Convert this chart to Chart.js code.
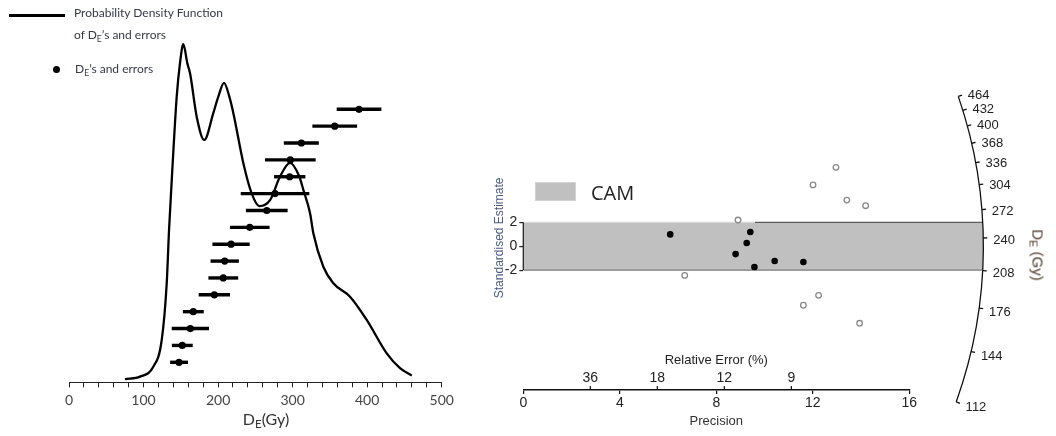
<!DOCTYPE html>
<html>
<head>
<meta charset="utf-8">
<title>Equivalent dose distribution and radial plot</title>
<script src="https://cdn.jsdelivr.net/npm/chart.js@4.4.0/dist/chart.umd.min.js"></script>
<style>
  html, body { margin: 0; padding: 0; background: #fff; }
  #wrap { position: relative; width: 1056px; height: 436px; overflow: hidden; }
  canvas { position: absolute; top: 0; }
  #kde { left: 0; }
  #radial { left: 480px; }
  .t { position: absolute; white-space: nowrap; line-height: 1; transform: translateY(-50%); }
  .t sub { font-size: 72%; vertical-align: -0.3em; line-height: 0; }
  .lg { font-family: Lato, "Open Sans", sans-serif; font-size: 12px; color: #363a45; }
</style>
</head>
<body>
<div id="wrap">
  <canvas id="kde" width="470" height="436"></canvas>
  <canvas id="radial" width="576" height="436"></canvas>

  <!-- legend of the dose distribution panel -->
  <div style="position:absolute;left:9px;top:14px;width:56px;height:2.5px;background:#000;"></div>
  <div class="t lg" style="left:74px;top:12.5px;">Probability Density Function</div>
  <div class="t lg" style="left:74px;top:34.5px;">of D<sub>E</sub>’s and errors</div>
  <div style="position:absolute;left:52.5px;top:65.5px;width:7px;height:7px;border-radius:50%;background:#000;"></div>
  <div class="t lg" style="left:75px;top:69px;">D<sub>E</sub>’s and errors</div>

  <!-- dose axis title -->
  <div class="t" style="left:266px;top:419px;transform:translate(-50%,-50%);font-family:Lato,sans-serif;font-size:16px;color:#333;">D<sub>E</sub>(Gy)</div>

  <!-- central age model legend -->
  <div style="position:absolute;left:535px;top:181.5px;width:39px;height:17.5px;background:#c0c0c0;border:1px solid #d2d2d2;"></div>
  <div class="t" style="left:591px;top:193px;font-family:'Open Sans',sans-serif;font-size:20px;color:#222;">CAM</div>

  <!-- radial axis title -->
  <div class="t" style="left:1038px;top:255px;transform:translate(-50%,-50%) rotate(90deg);font-family:'Liberation Sans',Arial,sans-serif;font-size:15px;color:#4d3b2a;">D<sub>E</sub> (Gy)</div>
</div>

<script>
// ---- Kernel density estimate of the equivalent doses (relative height) ----
const densityDose   = [75.1, 95.3, 113.1, 124.4, 131.1, 134.2, 139.1, 144.5, 148.9, 153.4, 158.7, 162.4,
                       171.3, 181.5, 193.6, 200.3, 208.0, 215.1, 220.5, 233.9, 245.1, 255.3, 269.7, 283.1,
                       296.5, 309.0, 314.4, 323.4, 327.8, 341.2, 354.6, 377.0, 399.4, 426.3, 444.1, 459.8];
const densityHeight = [0.009, 0.016, 0.044, 0.120, 0.281, 0.432, 0.622, 0.811, 0.906, 0.960, 0.906, 0.877,
                       0.754, 0.688, 0.764, 0.811, 0.850, 0.811, 0.764, 0.622, 0.536, 0.500, 0.517, 0.584,
                       0.623, 0.584, 0.546, 0.480, 0.423, 0.328, 0.281, 0.243, 0.177, 0.082, 0.040, 0.019];

// ---- Individual aliquots: equivalent dose (Gy) and 1-sigma error, ranked from low to high ----
const doseRank  = [1, 2, 3, 4, 5, 6, 7, 8, 9, 10, 11, 12, 13, 14, 15, 16];
const doseValue = [147.6, 152.0, 162.8, 166.8, 195.0, 207.0, 208.9, 217.4,
                   242.5, 265.3, 276.4, 296.1, 296.9, 311.7, 356.5, 389.1];
const doseError = [12, 14, 25, 14, 21, 20, 19, 25, 26.6, 28, 46, 21, 34, 23.5, 30, 30];
const doseAxisLabels = [0, 100, 200, 300, 400, 500];

// ---- Radial plot: precision (1/relative error) vs standardised estimate ----
// aliquots consistent with the central value (inside the ±2 band)
const precisionIn = [6.09, 9.41, 9.26, 8.80, 9.58, 10.42, 11.61];
const standardIn  = [0.99, 1.19, 0.27, -0.66, -1.74, -1.24, -1.32];
// aliquots outside the ±2 band
const precisionOut = [8.90, 6.69, 12.96, 12.01, 13.41, 14.19, 12.24, 11.61, 13.94];
const standardOut  = [2.19, -2.44, 6.60, 5.13, 3.86, 3.39, -4.11, -4.94, -6.45];

const precisionTicks = [0, 4, 8, 12, 16];
const standardTicks  = [-2, 0, 2];
const relErrorTicks  = [36, 18, 12, 9];             // %
const radialDoseTicks = [112, 144, 176, 208, 240, 272, 304, 336, 368, 400, 432, 464];
const camDose = 231.5;                               // central age model dose (Gy)
const bandLimit = 2;                                 // ±2 standardised units
const arcPrecision = 19.07;                          // radius of the dose scale, in precision units

// ---------------------------------------------------------------------------
// Left panel: density curve with dose error bars
// ---------------------------------------------------------------------------
const errorBars = {
  id: 'errorBars',
  beforeDatasetDraw(chart, args) {
    const ds = chart.data.datasets[args.index];
    if (!ds.errors) return;
    const {ctx} = chart;
    const xs = chart.scales.x;
    ctx.save();
    ctx.strokeStyle = '#000';
    ctx.lineWidth = 3.4;
    args.meta.data.forEach((pt, i) => {
      const v = ds.data[i].x, e = ds.errors[i];
      ctx.beginPath();
      ctx.moveTo(xs.getPixelForValue(v - e), pt.y);
      ctx.lineTo(xs.getPixelForValue(v + e), pt.y);
      ctx.stroke();
    });
    ctx.restore();
  }
};

new Chart(document.getElementById('kde'), {
  type: 'scatter',
  data: {
    datasets: [
      {
        type: 'line',
        label: 'Probability Density Function',
        data: densityDose.map((d, i) => ({x: d, y: densityHeight[i]})),
        yAxisID: 'yd',
        borderColor: '#000',
        borderWidth: 2.3,
        pointRadius: 0,
        fill: false,
        cubicInterpolationMode: 'monotone',
        order: 2
      },
      {
        label: 'DE and errors',
        data: doseValue.map((d, i) => ({x: d, y: doseRank[i]})),
        errors: doseError,
        yAxisID: 'yr',
        pointRadius: 3.6,
        pointHoverRadius: 3.6,
        backgroundColor: '#000',
        borderColor: '#000',
        borderWidth: 0,
        order: 1
      }
    ]
  },
  options: {
    responsive: false,
    animation: false,
    devicePixelRatio: 1,
    layout: { padding: { left: 69, right: 28.3, top: 30, bottom: 0 } },
    plugins: { legend: { display: false }, tooltip: { enabled: false } },
    scales: {
      x: {
        type: 'linear',
        min: 0, max: 500,
        afterFit: s => { s.height = 53.7; },
        border: { display: true, color: '#222', width: 1 },
        grid: { drawOnChartArea: false, tickLength: 5, color: '#222', lineWidth: 1 },
        ticks: {
          stepSize: 20,
          autoSkip: false,
          maxRotation: 0,
          padding: 5,
          color: '#444',
          font: { family: 'Lato', size: 14 },
          callback: v => (doseAxisLabels.includes(v) ? String(v) : '')
        }
      },
      yd: { display: false, min: 0, max: 1 },
      yr: { display: false, min: -0.186, max: 20.7 }
    }
  },
  plugins: [errorBars]
});

// ---------------------------------------------------------------------------
// Right panel: radial plot with CAM band and curved dose scale
// ---------------------------------------------------------------------------
const axisFont = { family: '"Liberation Sans", Arial, sans-serif', size: 14 };

function radialGeometry(xs, ys) {
  const x0 = xs.getPixelForValue(0);
  const y0 = ys.getPixelForValue(0);
  const R = xs.getPixelForValue(arcPrecision) - x0;
  const unitX = xs.getPixelForValue(1) - x0;
  const angleOf = dose => {
    const slope = Math.log(dose / camDose);
    return Math.atan2(ys.getPixelForValue(slope) - y0, unitX);
  };
  return {x0, y0, R, angleOf};
}

const radialFrame = {
  id: 'radialFrame',
  beforeDatasetsDraw(chart) {
    const {ctx} = chart;
    const xs = chart.scales.x, ys = chart.scales.y;
    const g = radialGeometry(xs, ys);
    const yTop = ys.getPixelForValue(bandLimit);
    const yBot = ys.getPixelForValue(-bandLimit);
    const aTop = Math.asin((yTop - g.y0) / g.R);
    const aBot = Math.asin((yBot - g.y0) / g.R);
    const xTopEnd = g.x0 + g.R * Math.cos(aTop);
    const xBotEnd = g.x0 + g.R * Math.cos(aBot);

    ctx.save();
    // ±2 band around the central value
    ctx.beginPath();
    ctx.moveTo(g.x0, yTop);
    ctx.arc(g.x0, g.y0, g.R, aTop, aBot);
    ctx.lineTo(g.x0, yBot);
    ctx.closePath();
    ctx.fillStyle = '#c0c0c0';
    ctx.fill();

    ctx.lineWidth = 1.2;
    const xSplit = xs.getPixelForValue(9.6);
    ctx.strokeStyle = '#d9d9d9';
    ctx.beginPath(); ctx.moveTo(g.x0, yTop); ctx.lineTo(xSplit, yTop); ctx.stroke();
    ctx.strokeStyle = '#5a5a5a';
    ctx.beginPath(); ctx.moveTo(xSplit, yTop); ctx.lineTo(xTopEnd, yTop); ctx.stroke();
    ctx.strokeStyle = '#7a7a7a';
    ctx.beginPath(); ctx.moveTo(g.x0, yBot); ctx.lineTo(xBotEnd, yBot); ctx.stroke();

    // standardised estimate axis, only across the band
    ctx.strokeStyle = '#222';
    ctx.lineWidth = 1.3;
    ctx.beginPath(); ctx.moveTo(g.x0, yTop); ctx.lineTo(g.x0, yBot); ctx.stroke();

    // curved dose scale
    const aFirst = g.angleOf(radialDoseTicks[radialDoseTicks.length - 1]);
    const aLast = g.angleOf(radialDoseTicks[0]);
    ctx.strokeStyle = '#111';
    ctx.lineWidth = 1.3;
    ctx.beginPath();
    ctx.arc(g.x0, g.y0, g.R, aFirst, aLast);
    ctx.stroke();

    ctx.fillStyle = '#222';
    ctx.font = '13px "Liberation Sans", Arial, sans-serif';
    ctx.textAlign = 'left';
    ctx.textBaseline = 'middle';
    radialDoseTicks.forEach(d => {
      const a = g.angleOf(d);
      const c = Math.cos(a), s = Math.sin(a);
      ctx.beginPath();
      ctx.moveTo(g.x0 + g.R * c, g.y0 + g.R * s);
      ctx.lineTo(g.x0 + (g.R + 4) * c, g.y0 + (g.R + 4) * s);
      ctx.stroke();
      ctx.fillText(String(d), g.x0 + (g.R + 10) * c, g.y0 + (g.R + 10) * s + 2.5);
    });

    // relative error scale on top of the precision axis
    const axisY = xs.top;
    ctx.lineWidth = 1.2;
    ctx.textAlign = 'center';
    ctx.font = '14px "Liberation Sans", Arial, sans-serif';
    relErrorTicks.forEach(re => {
      const px = xs.getPixelForValue(100 / re);
      ctx.beginPath(); ctx.moveTo(px, axisY); ctx.lineTo(px, axisY - 4); ctx.stroke();
      ctx.fillText(String(re), px, axisY - 12);
    });
    ctx.font = '13px "Liberation Sans", Arial, sans-serif';
    ctx.fillText('Relative Error (%)', (xs.left + xs.right) / 2, axisY - 29.5);
    ctx.restore();
  }
};

new Chart(document.getElementById('radial'), {
  type: 'scatter',
  data: {
    datasets: [
      {
        label: 'Within 2σ of CAM',
        data: precisionIn.map((p, i) => ({x: p, y: standardIn[i]})),
        pointRadius: 3.3,
        pointHoverRadius: 3.3,
        backgroundColor: '#000',
        borderColor: '#000',
        borderWidth: 0
      },
      {
        label: 'Outside 2σ of CAM',
        data: precisionOut.map((p, i) => ({x: p, y: standardOut[i]})),
        pointRadius: 2.8,
        pointHoverRadius: 2.8,
        backgroundColor: '#fff',
        borderColor: '#8a8a8a',
        borderWidth: 1.3
      }
    ]
  },
  options: {
    responsive: false,
    animation: false,
    devicePixelRatio: 1,
    layout: { padding: { left: 8, right: 146.7, top: 85.7, bottom: 0 } },
    plugins: { legend: { display: false }, tooltip: { enabled: false } },
    scales: {
      x: {
        type: 'linear',
        min: 0, max: 16,
        afterFit: s => { s.height = 46; },
        afterBuildTicks: s => { s.ticks = precisionTicks.map(v => ({value: v})); },
        border: { display: true, color: '#111', width: 1.5 },
        grid: { drawOnChartArea: false, tickLength: 4, color: '#111', lineWidth: 1.2 },
        ticks: { padding: 1, color: '#222', font: axisFont, maxRotation: 0, autoSkip: false },
        title: {
          display: true, text: 'Precision', color: '#333',
          font: { family: '"Liberation Sans", Arial, sans-serif', size: 13 },
          padding: { top: 2, bottom: 7 }
        }
      },
      y: {
        type: 'linear',
        min: -12.03, max: 13.43,
        afterFit: s => { s.width = 35.3; },
        afterBuildTicks: s => { s.ticks = standardTicks.map(v => ({value: v})); },
        border: { display: false },
        grid: { drawOnChartArea: false, tickLength: 4, color: '#222', lineWidth: 1.2 },
        ticks: { padding: 2, color: '#222', font: axisFont, autoSkip: false },
        title: {
          display: true, text: 'Standardised Estimate', color: '#4a5a80',
          font: { family: '"Liberation Sans", Arial, sans-serif', size: 12 },
          padding: { top: 4, bottom: 2 }
        }
      }
    }
  },
  plugins: [radialFrame]
});
</script>
</body>
</html>
